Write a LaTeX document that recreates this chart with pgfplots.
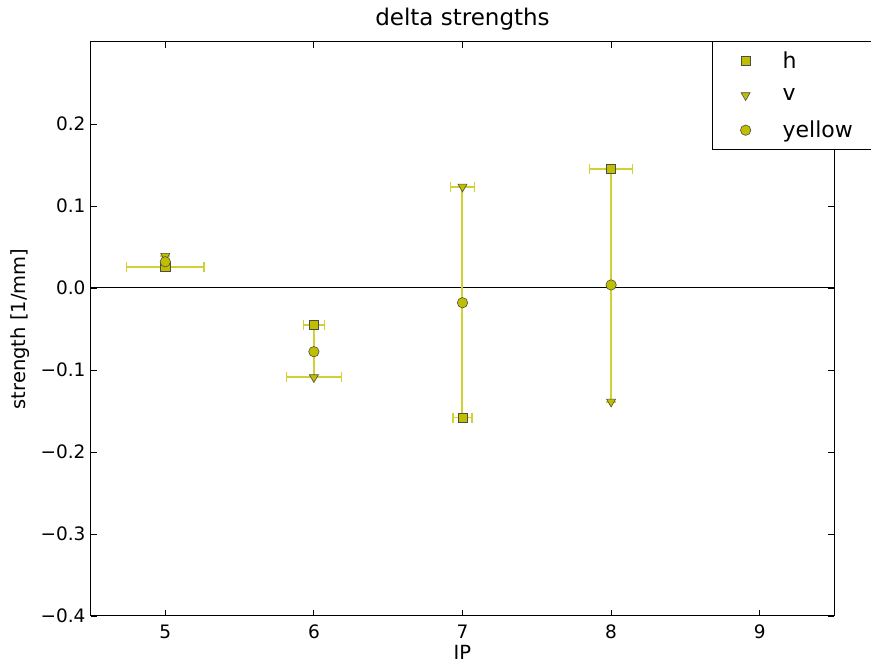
\documentclass[border=0pt]{standalone}
\usepackage{pgfplots}
\pgfplotsset{compat=1.18}
\usepackage{fontspec}
\setmainfont{DejaVu Sans}
\definecolor{mplyellow}{rgb}{0.75,0.75,0}
\definecolor{errcol}{rgb}{0.82,0.82,0.2}
\begin{document}
\begin{tikzpicture}
\begin{axis}[
  at={(0,0)}, anchor=south west,
  scale only axis, width=743pt, height=574pt,
  xmin=4.5, xmax=9.5, ymin=-0.4, ymax=0.3,
  xtick={5,6,7,8,9},
  ytick={-0.4,-0.3,-0.2,-0.1,0,0.1,0.2},
  yticklabels={−0.4,−0.3,−0.2,−0.1,0.0,0.1,0.2},
  /pgf/number format/assume math mode=true,
  tick align=inside, tick pos=both,
  major tick length=6pt,
  tick style={black, line width=0.8pt},
  axis line style={black, line width=1pt},
  ticklabel style={font=\fontsize{18.5}{20}\selectfont},
  xticklabel style={yshift=-5pt},
  yticklabel style={xshift=-2pt},
  title={delta strengths},
  title style={font=\fontsize{23}{26}\selectfont, yshift=2pt},
  xlabel={IP},
  ylabel={strength [1/mm]},
  label style={font=\fontsize{19.5}{22}\selectfont},
  xlabel style={yshift=0pt},
  ylabel style={yshift=4pt},
  legend style={at={(0.836,1.002)}, anchor=north west, draw=black, line width=1pt,
    font=\fontsize{22}{26}\selectfont, row sep=15pt, inner xsep=0pt, inner ysep=8pt,
    legend cell align=left},
  legend image code/.code={\path[draw=none] (0pt,0pt) -- (68pt,0pt); \draw[#1] plot coordinates {(33pt,0pt)};},
  clip=false,
]
% zero line
\addplot[black, line width=1pt, forget plot] coordinates {(4.5,0) (9.5,0)};
% connecting vertical lines
\addplot[draw=errcol, line width=2pt, unbounded coords=jump, forget plot] coordinates {
  (5,0.039) (5,0.025) (5,nan)
  (6,-0.045) (6,-0.109) (6,nan)
  (7,0.1235) (7,-0.158) (7,nan)
  (8,0.145) (8,-0.1387)
};
% h
\addplot[only marks, mark=square*, mark size=4.6pt,
  mark options={fill=mplyellow, draw=black!70, line width=0.6pt},
  error bars/.cd, x dir=both, x explicit,
  error bar style={draw=errcol, line width=1.8pt},
  error mark options={draw=errcol, line width=1.6pt, mark size=5pt, rotate=90}]
  coordinates {
  (5,0.0255) +- (0.26,0)
  (6,-0.045) +- (0.07,0)
  (7,-0.158) +- (0.065,0)
  (8,0.145) +- (0.145,0)
};
\addlegendentry{h}
% v
\addplot[only marks, mark=triangle*, mark size=5.2pt,
  mark options={rotate=180, fill=mplyellow, draw=black!70, line width=0.6pt},
  error bars/.cd, x dir=both, x explicit,
  error bar style={draw=errcol, line width=1.8pt},
  error mark options={draw=errcol, line width=1.6pt, mark size=5pt, rotate=90}]
  coordinates {
  (5,0.039) +- (0,0)
  (6,-0.109) +- (0.185,0)
  (7,0.1235) +- (0.08,0)
  (8,-0.1387) +- (0,0)
};
\addlegendentry{v}
% yellow
\addplot[only marks, mark=*, mark size=5.2pt,
  mark options={fill=mplyellow, draw=black!70, line width=0.6pt}]
  coordinates {
  (5,0.032) (6,-0.0777) (7,-0.018) (8,0.0037)
};
\addlegendentry{yellow\hspace*{30pt}\rule[-11pt]{0pt}{1pt}}
\end{axis}
\pgfresetboundingbox
\useasboundingbox (-91pt,-53pt) rectangle (780pt,616pt);
\end{tikzpicture}
\end{document}
